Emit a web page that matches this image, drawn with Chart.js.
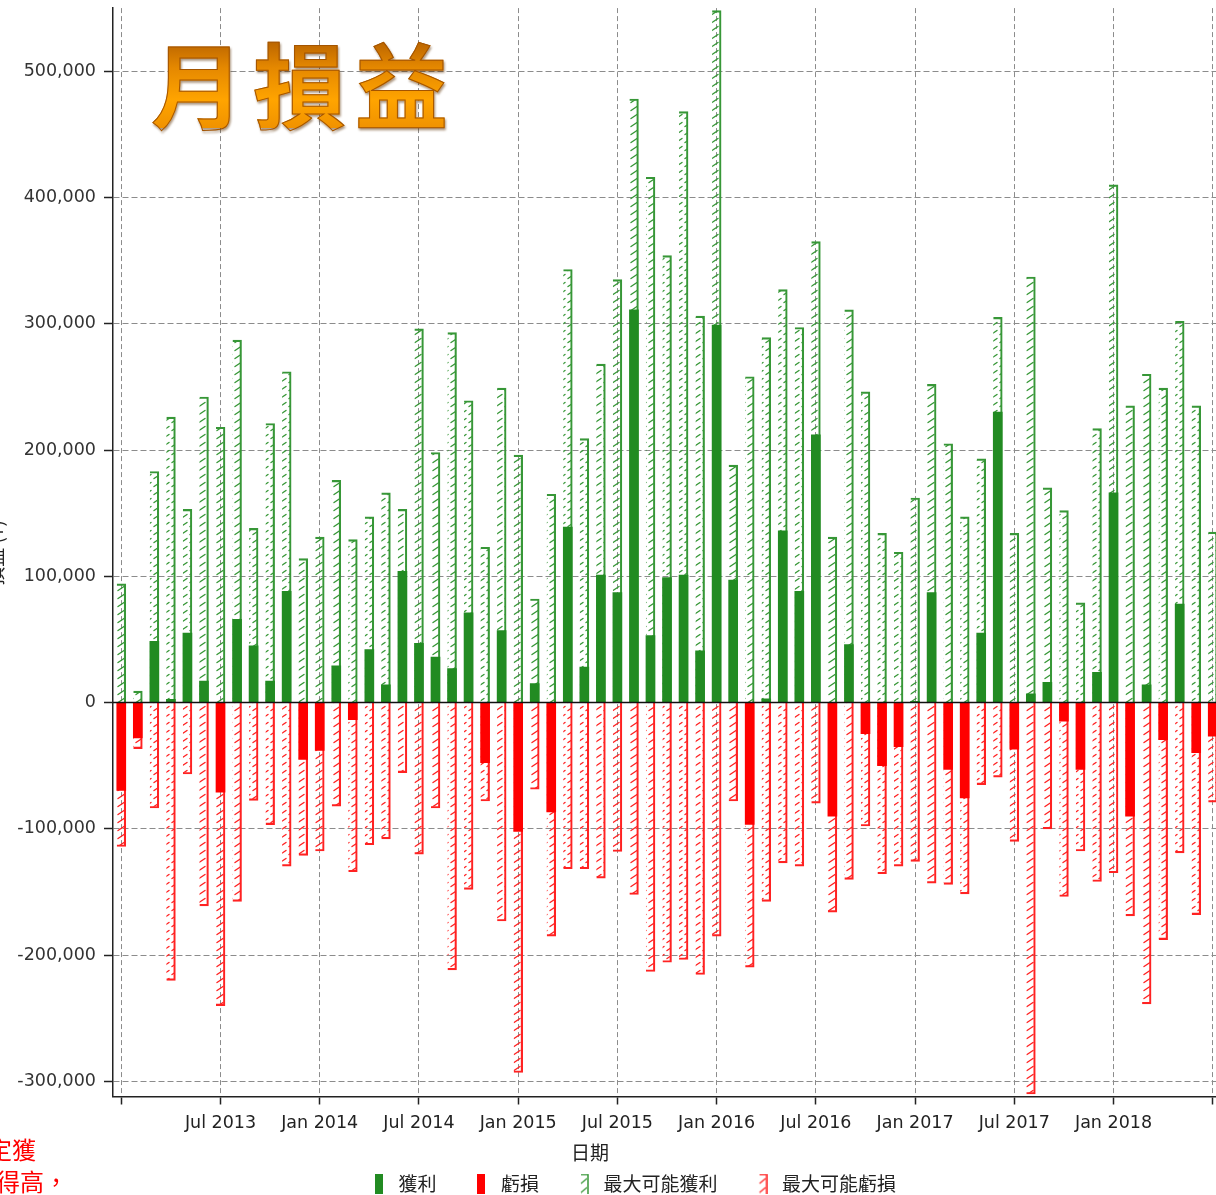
<!DOCTYPE html>
<html lang="zh-Hant">
<head>
<meta charset="utf-8">
<title>月損益</title>
<script src="https://cdn.jsdelivr.net/npm/chart.js@4.4.1/dist/chart.umd.min.js"></script>
<style>
  html, body { margin: 0; padding: 0; background: #fff; overflow: hidden; }
  body { width: 1216px; height: 1195px; position: relative; }
  #wrap { position: absolute; left: 0; top: 0; width: 1255px; height: 1203px; }
  #title {
    position: absolute; left: 151px; top: 35px; z-index: 2;
    font: 700 93px/93px "Noto Sans CJK TC", sans-serif; letter-spacing: 9px;
    background: linear-gradient(to bottom, #b05c00 0%, #e58800 35%, #ffa400 70%, #f09200 100%);
    -webkit-background-clip: text; background-clip: text; color: transparent;
    -webkit-text-stroke: 1px #a35400;
    filter: drop-shadow(1px 2px 1px rgba(90, 45, 0, 0.5));
    white-space: nowrap;
  }
  .side { position: absolute; color: #f00; font: 24px/24px "Noto Sans CJK TC", sans-serif; white-space: nowrap; }
</style>
</head>
<body>
<div id="wrap"><canvas id="chart" width="1255" height="1203"></canvas></div>
<div id="title">月損益</div>
<div class="side" style="left:-12px; top:1137px;">定獲</div>
<div class="side" style="left:-4px; top:1169px;">得高，</div>
<script>
// months Jan 2013 .. Jul 2018
const months = [
  'Jan 2013', 'Feb 2013', 'Mar 2013', 'Apr 2013', 'May 2013', 'Jun 2013', 'Jul 2013', 'Aug 2013', 'Sep 2013', 'Oct 2013', 'Nov 2013', 'Dec 2013',
  'Jan 2014', 'Feb 2014', 'Mar 2014', 'Apr 2014', 'May 2014', 'Jun 2014', 'Jul 2014', 'Aug 2014', 'Sep 2014', 'Oct 2014', 'Nov 2014', 'Dec 2014',
  'Jan 2015', 'Feb 2015', 'Mar 2015', 'Apr 2015', 'May 2015', 'Jun 2015', 'Jul 2015', 'Aug 2015', 'Sep 2015', 'Oct 2015', 'Nov 2015', 'Dec 2015',
  'Jan 2016', 'Feb 2016', 'Mar 2016', 'Apr 2016', 'May 2016', 'Jun 2016', 'Jul 2016', 'Aug 2016', 'Sep 2016', 'Oct 2016', 'Nov 2016', 'Dec 2016',
  'Jan 2017', 'Feb 2017', 'Mar 2017', 'Apr 2017', 'May 2017', 'Jun 2017', 'Jul 2017', 'Aug 2017', 'Sep 2017', 'Oct 2017', 'Nov 2017', 'Dec 2017',
  'Jan 2018', 'Feb 2018', 'Mar 2018', 'Apr 2018', 'May 2018', 'Jun 2018', 'Jul 2018'
];

// labels written under the axis
const xTickLabels = ['Jul 2013', 'Jan 2014', 'Jul 2014', 'Jan 2015', 'Jul 2015', 'Jan 2016',
  'Jul 2016', 'Jan 2017', 'Jul 2017', 'Jan 2018'];
const yTicks = [-300000, -200000, -100000, 0, 100000, 200000, 300000, 400000, 500000];

const profit = [
  0, 0, 48500, 2500, 55000, 17000, 0, 66000, 45000, 17000,
  88000, 0, 0, 29000, 0, 42000, 14000, 104000, 47000, 36000,
  27000, 71000, 0, 57000, 0, 15000, 0, 139000, 28000, 101000,
  87000, 311000, 53000, 99000, 101000, 41000, 299000, 97000, 0, 3000,
  136000, 88000, 212000, 0, 46000, 0, 0, 0, 1000, 87000,
  0, 0, 55000, 230000, 0, 7000, 16000, 0, 0, 24000,
  166000, 0, 14000, 0, 78000, 0, 0
];
const loss = [
  -69500, -28000, 0, 0, 0, 0, -71000, 0, 0, 0,
  0, -45000, -38000, 0, -13500, 0, 0, 0, 0, 0,
  0, 0, -47600, 0, -102000, 0, -86700, 0, 0, 0,
  0, 0, 0, 0, 0, 0, 0, 0, -96500, 0,
  0, 0, 0, -90000, 0, -24600, -50000, -35000, 0, 0,
  -52900, -75600, 0, 0, -37000, 0, 0, -14800, -52900, 0,
  0, -90000, 0, -29300, 0, -39700, -26700
];
const maxProfit = [
  94000, 9000, 183000, 226000, 153000, 242000, 218000, 287000, 138000, 221000,
  262000, 114000, 131000, 176000, 129000, 147000, 166000, 153000, 296000, 198000,
  293000, 239000, 123000, 249000, 196000, 82000, 165000, 343000, 209000, 268000,
  335000, 478000, 416000, 354000, 468000, 306000, 548000, 188000, 258000, 289000,
  327000, 297000, 365000, 131000, 311000, 246000, 134000, 119000, 162000, 252000,
  205000, 147000, 193000, 305000, 134000, 337000, 170000, 152000, 79000, 217000,
  410000, 235000, 260000, 249000, 302000, 235000, 135000
];
const maxLoss = [
  -114000, -36500, -83500, -220000, -56600, -161000, -240000, -157500, -77500, -96700,
  -129500, -121000, -117600, -82000, -134000, -112600, -108000, -55500, -120000, -83500,
  -211700, -148000, -78000, -173000, -293000, -68700, -185000, -131600, -131600, -139000,
  -118000, -152000, -213000, -205700, -203500, -215400, -185000, -78000, -209600, -157500,
  -127000, -129500, -79600, -166000, -140000, -97800, -135600, -129500, -125800, -143000,
  -144000, -151500, -65000, -59000, -110000, -310000, -100000, -153600, -117600, -141700,
  -134800, -169000, -238700, -187700, -119000, -168000, -78800
];

const xTitle = '日期';
const yTitle = '損益 (¥)';

const GREEN = '#228b22';
const RED = '#ff0000';
const GREEN_LINE = '#379737';
const RED_LINE = '#ff2222';

function makeHatch(color) {
  const c = document.createElement('canvas');
  c.width = 9;
  c.height = 8;
  const g = c.getContext('2d');
  g.strokeStyle = color;
  g.lineWidth = 1.4;
  g.lineCap = 'round';
  g.beginPath();
  g.moveTo(1, 6.5);
  g.lineTo(7, 2.5);
  g.stroke();
  return g.createPattern(c, 'repeat');
}

// little canvases used as legend symbols
function solidIcon(color) {
  const c = document.createElement('canvas');
  c.width = 8; c.height = 20;
  const g = c.getContext('2d');
  g.fillStyle = color;
  g.fillRect(0, 0, 8, 20);
  return c;
}
function hatchIcon(color) {
  const c = document.createElement('canvas');
  c.width = 10; c.height = 20;
  const g = c.getContext('2d');
  g.strokeStyle = color;
  g.lineWidth = 1.5;
  g.beginPath();
  g.moveTo(2, 1); g.lineTo(9, 1); g.lineTo(9, 20);
  g.stroke();
  g.lineWidth = 1.2;
  g.beginPath();
  g.moveTo(2, 10); g.lineTo(8, 5);
  g.moveTo(2, 19); g.lineTo(8, 14);
  g.stroke();
  return c;
}
const legendIcons = [solidIcon(GREEN), solidIcon(RED), hatchIcon(GREEN_LINE), hatchIcon(RED_LINE)];

const isGridMonth = i => months[i] && (months[i].startsWith('Jan') || months[i].startsWith('Jul'));

const extraText = {
  id: 'extraText',
  afterDatasetsDraw(chart) {
    const { ctx, chartArea, scales } = chart;
    const y0 = scales.y.getPixelForValue(0);
    ctx.save();
    ctx.strokeStyle = '#111';
    ctx.lineWidth = 1.5;
    ctx.beginPath();
    ctx.moveTo(chartArea.left, y0);
    ctx.lineTo(chartArea.right, y0);
    ctx.stroke();
    ctx.restore();
  },
  afterDraw(chart) {
    const { ctx } = chart;
    ctx.save();
    ctx.fillStyle = '#222';
    ctx.font = '19px "Noto Sans CJK TC"';
    ctx.textAlign = 'center';
    ctx.textBaseline = 'middle';
    ctx.fillText(xTitle, 590, 1153);
    ctx.translate(-4, 553);
    ctx.rotate(-Math.PI / 2);
    ctx.fillText(yTitle, 0, 0);
    ctx.restore();
  }
};

const ctx = document.getElementById('chart').getContext('2d');
new Chart(ctx, {
  type: 'bar',
  data: {
    labels: months,
    datasets: [
      { label: '獲利', data: profit, backgroundColor: GREEN, order: 0, grouped: false, barThickness: 9 },
      { label: '虧損', data: loss, backgroundColor: RED, order: 0, grouped: false, barThickness: 9 },
      {
        label: '最大可能獲利', data: maxProfit, backgroundColor: makeHatch(GREEN_LINE),
        borderColor: GREEN_LINE, borderWidth: { top: 1.5, right: 1.5, bottom: 0, left: 0 },
        borderSkipped: false, order: 1, grouped: false, barThickness: 9
      },
      {
        label: '最大可能虧損', data: maxLoss, backgroundColor: makeHatch(RED_LINE),
        borderColor: RED_LINE, borderWidth: { top: 0, right: 1.5, bottom: 1.5, left: 0 },
        borderSkipped: false, order: 1, grouped: false, barThickness: 9
      }
    ]
  },
  options: {
    responsive: false,
    animation: false,
    layout: { padding: { left: 10, right: 0, top: 0, bottom: 0 } },
    plugins: {
      tooltip: { enabled: false },
      legend: {
        position: 'bottom',
        labels: {
          usePointStyle: true,
          pointStyleWidth: 20,
          padding: 35,
          color: '#222',
          font: { family: '"Noto Sans CJK TC"', size: 19 },
          generateLabels: chart => chart.data.datasets.map((ds, i) => ({
            text: ds.label,
            pointStyle: legendIcons[i],
            fillStyle: 'transparent',
            strokeStyle: 'transparent',
            lineWidth: 0,
            hidden: false,
            fontColor: '#222',
            datasetIndex: i
          }))
        }
      }
    },
    scales: {
      x: {
        offset: true,
        grid: {
          offset: false,
          lineWidth: 1,
          color: c => isGridMonth(c.index) ? '#8c8c8c' : 'transparent',
          tickColor: c => isGridMonth(c.index) ? '#222' : 'transparent',
          tickLength: 8,
          tickWidth: 1.5,
          tickBorderDash: []
        },
        border: { color: '#222', width: 1.5, dash: [5, 3] },
        ticks: {
          autoSkip: false,
          maxRotation: 0,
          minRotation: 0,
          padding: 8,
          color: '#222',
          font: { family: '"DejaVu Sans"', size: 17.5 },
          callback: (v, i) => xTickLabels.includes(months[i]) ? months[i] : ''
        },
        afterFit: s => { s.height = 42.5; }
      },
      y: {
        min: -312000,
        max: 550000,
        afterBuildTicks: s => { s.ticks = yTicks.map(v => ({ value: v })); },
        grid: {
          lineWidth: 1,
          color: c => (c.tick && c.tick.value === 0) ? 'transparent' : '#8c8c8c',
          tickColor: '#222',
          tickLength: 9,
          tickWidth: 1.5,
          tickBorderDash: []
        },
        border: { color: '#222', width: 1.5, dash: [6, 3] },
        ticks: {
          padding: 8,
          color: '#333',
          font: { family: '"DejaVu Sans"', size: 17.5, lineHeight: 0.01 },
          callback: v => v.toLocaleString('en-US')
        },
        afterFit: s => { s.width = 103; }
      },
      // empty right-hand box: keeps the plot edge where it is while the
      // canvas runs a little past the window
      yPad: {
        position: 'right',
        display: true,
        grid: { display: false },
        border: { display: false },
        ticks: { display: false },
        afterFit: s => { s.width = 34; }
      }
    }
  },
  plugins: [extraText]
});
</script>
</body>
</html>
